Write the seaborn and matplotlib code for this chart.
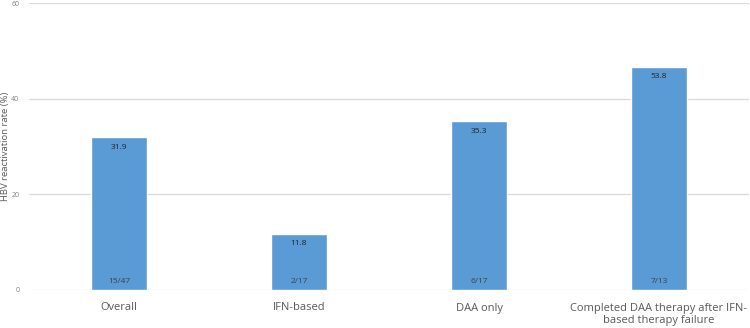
import pandas as pd
import matplotlib
matplotlib.use('Agg')
import matplotlib.pyplot as plt
import seaborn as sns

# 막대 데이터
groups = ['Overall', 'IFN-based', 'DAA only',
          'Completed DAA therapy after IFN-\nbased therapy failure']
bar_heights = [31.9, 11.8, 35.3, 46.7]
value_labels = ['31.9', '11.8', '35.3', '53.8']
counts = ['15/47', '2/17', '6/17', '7/13']

df = pd.DataFrame({'group': groups, 'rate': bar_heights})

sns.set_style('white')
plt.rcParams['font.family'] = ['Open Sans', 'DejaVu Sans']

fig = plt.figure(figsize=(7.5, 3.28), dpi=100)
ax = fig.add_axes([29/750, 38/328, 720/750, 287/328])

sns.barplot(data=df, x='group', y='rate', color='#5B9BD5', saturation=1,
            width=0.31, ax=ax)

for i, (h, v, c) in enumerate(zip(bar_heights, value_labels, counts)):
    ax.text(i, h - 2.1, v, ha='center', va='center', fontsize=6, color='#222222')
    ax.text(i, 1.8, c, ha='center', va='center', fontsize=6, color='#404040')

ax.set_ylim(0, 60)
ax.set_yticks([0, 20, 40, 60])
ax.set_xlim(-0.5, 3.5)
ax.yaxis.grid(True, color='#D9D9D9', linewidth=0.9)
ax.set_axisbelow(True)
for s in ax.spines.values():
    s.set_visible(False)
ax.tick_params(axis='y', length=0, labelsize=5, labelcolor='#7F7F7F', pad=7)
ax.tick_params(axis='x', length=0, labelsize=8, labelcolor='#595959', pad=9)
ax.set_xlabel('')
ax.set_ylabel('HBV reactivation rate (%)', fontsize=6.8, color='#595959')
ax.yaxis.set_label_coords(-0.026, 0.5)

fig.savefig('out.png', dpi=100)
